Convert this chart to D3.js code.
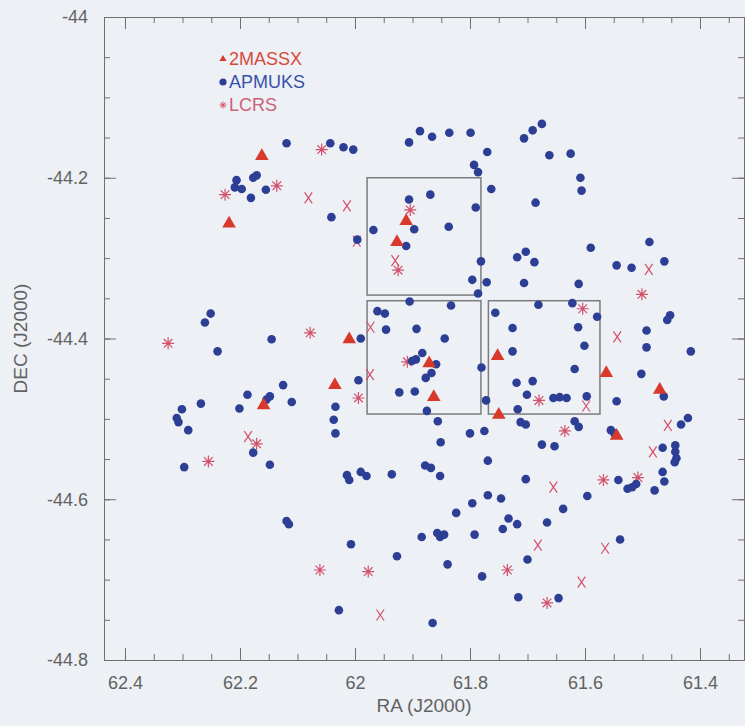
<!DOCTYPE html>
<html>
<head>
<meta charset="utf-8">
<script src="https://cdn.jsdelivr.net/npm/d3@7"></script>
<style>
  html, body { margin: 0; background: #edf0f5; }
  svg { display: block; }
</style>
</head>
<body>
<svg id="chart" width="745" height="726"></svg>
<script>
// tick labels
const xTicks = [62.4, 62.2, 62.0, 61.8, 61.6, 61.4];
const yTicks = [-44.0, -44.2, -44.4, -44.6, -44.8];
const seriesNames = ["2MASSX", "APMUKS", "LCRS"];

// [RA, DEC] in degrees
const twomassx = [
  [62.162, -44.173], [62.219, -44.257], [61.911, -44.254], [61.927, -44.280],
  [62.010, -44.401], [61.871, -44.431], [61.752, -44.422], [62.035, -44.458],
  [62.159, -44.483], [61.863, -44.473], [61.750, -44.495], [61.563, -44.443],
  [61.470, -44.464], [61.545, -44.521]
];

const apmuks = [
  [62.119, -44.157], [62.043, -44.157], [62.020, -44.162], [62.003, -44.165],
  [62.171, -44.197], [62.177, -44.200], [62.206, -44.203], [62.209, -44.212],
  [62.197, -44.214], [62.155, -44.215], [62.181, -44.225], [62.041, -44.249],
  [61.996, -44.277], [61.887, -44.142], [61.866, -44.149], [61.906, -44.156],
  [61.836, -44.144], [61.799, -44.144], [61.675, -44.133], [61.691, -44.141],
  [61.706, -44.151], [61.770, -44.168], [61.662, -44.172], [61.625, -44.170],
  [61.793, -44.184], [61.786, -44.193], [61.608, -44.200], [61.606, -44.216],
  [61.763, -44.214], [61.686, -44.231], [61.869, -44.221], [61.906, -44.227],
  [61.897, -44.264], [61.790, -44.237], [61.837, -44.261], [61.968, -44.265],
  [61.911, -44.285], [61.781, -44.304], [61.718, -44.299], [61.703, -44.292],
  [61.688, -44.305], [61.590, -44.287], [61.488, -44.280], [61.545, -44.309],
  [61.519, -44.312], [61.462, -44.304], [61.796, -44.327], [61.771, -44.330],
  [61.706, -44.331], [61.611, -44.332], [61.786, -44.344], [61.905, -44.354],
  [61.833, -44.359], [61.681, -44.358], [61.622, -44.356], [61.579, -44.373],
  [61.756, -44.368], [61.961, -44.366], [61.948, -44.369], [61.946, -44.389],
  [61.893, -44.388], [61.844, -44.400], [61.726, -44.387], [61.612, -44.386],
  [61.601, -44.409], [61.457, -44.377], [61.452, -44.371], [61.493, -44.390],
  [61.493, -44.411], [61.416, -44.416], [61.883, -44.418], [61.894, -44.426],
  [61.901, -44.428], [61.859, -44.432], [61.726, -44.416], [61.780, -44.436],
  [61.994, -44.452], [61.867, -44.443], [61.877, -44.449], [61.719, -44.455],
  [61.691, -44.453], [61.618, -44.438], [61.502, -44.444], [62.251, -44.369],
  [62.261, -44.380], [62.145, -44.401], [62.239, -44.416], [62.125, -44.458],
  [61.990, -44.400], [62.187, -44.470], [62.148, -44.472], [62.154, -44.476],
  [62.110, -44.479], [62.201, -44.487], [62.268, -44.481], [62.301, -44.488],
  [62.310, -44.499], [62.307, -44.504], [62.290, -44.514], [62.034, -44.485],
  [62.037, -44.501], [62.034, -44.518], [62.177, -44.542], [62.297, -44.560],
  [62.148, -44.557], [62.119, -44.627], [62.115, -44.631], [62.028, -44.738],
  [62.007, -44.656], [61.923, -44.467], [61.896, -44.466], [61.875, -44.490],
  [61.856, -44.503], [61.772, -44.477], [61.717, -44.488], [61.712, -44.504],
  [61.703, -44.507], [61.701, -44.470], [61.655, -44.474], [61.644, -44.473],
  [61.632, -44.474], [61.597, -44.472], [61.545, -44.478], [61.463, -44.472],
  [61.800, -44.518], [61.775, -44.515], [61.851, -44.529], [61.769, -44.552],
  [61.878, -44.558], [61.868, -44.561], [61.852, -44.571], [62.014, -44.570],
  [62.010, -44.576], [61.990, -44.566], [61.980, -44.571], [61.936, -44.569],
  [61.703, -44.575], [61.769, -44.595], [61.746, -44.599], [61.796, -44.605],
  [61.824, -44.617], [61.733, -44.624], [61.718, -44.631], [61.743, -44.637],
  [61.884, -44.647], [61.857, -44.642], [61.845, -44.644], [61.852, -44.647],
  [61.792, -44.644], [61.927, -44.671], [61.839, -44.681], [61.779, -44.696],
  [61.700, -44.675], [61.716, -44.722], [61.646, -44.723], [61.865, -44.754],
  [61.675, -44.532], [61.653, -44.534], [61.618, -44.503], [61.611, -44.510],
  [61.555, -44.514], [61.549, -44.518], [61.433, -44.507], [61.421, -44.499],
  [61.465, -44.536], [61.443, -44.533], [61.443, -44.541], [61.441, -44.549],
  [61.444, -44.554], [61.465, -44.566], [61.462, -44.578], [61.479, -44.589],
  [61.511, -44.581], [61.518, -44.585], [61.526, -44.587], [61.542, -44.576],
  [61.596, -44.596], [61.638, -44.612], [61.666, -44.629], [61.539, -44.650]
];

// LCRS, drawn as asterisks
const lcrsStar = [
  [62.058, -44.165], [62.136, -44.210], [62.226, -44.221], [62.078, -44.393],
  [62.325, -44.406], [61.904, -44.240], [61.925, -44.315], [61.909, -44.429],
  [61.994, -44.474], [61.501, -44.345], [61.604, -44.363], [62.171, -44.531],
  [62.255, -44.553], [62.061, -44.688], [61.977, -44.690], [61.680, -44.477],
  [61.635, -44.515], [61.568, -44.576], [61.508, -44.573], [61.666, -44.729],
  [61.735, -44.688]
];

// LCRS, drawn as crosses
const lcrsCross = [
  [62.081, -44.225], [62.014, -44.235], [61.997, -44.279], [61.930, -44.303],
  [61.489, -44.314], [61.544, -44.398], [61.973, -44.386], [61.974, -44.445],
  [62.186, -44.522], [61.598, -44.484], [61.456, -44.508], [61.482, -44.541],
  [61.655, -44.585], [61.682, -44.657], [61.565, -44.661], [61.606, -44.703],
  [61.956, -44.744]
];

// image fields [raEast, raWest, decNorth, decSouth]
const fields = [
  [61.979, 61.781, -44.200, -44.346],
  [61.979, 61.781, -44.353, -44.494],
  [61.768, 61.574, -44.353, -44.494]
];

const width = 745, height = 726;
const plot = { left: 104, right: 744, top: 17, bottom: 660 };
const font = '"Liberation Sans", Arial, sans-serif';
const axisColor = "#707070";

const svg = d3.select("#chart");

svg.append("rect")
  .attr("width", width)
  .attr("height", height)
  .attr("fill", "#edf0f5");

// RA runs right to left
const x = d3.scaleLinear()
  .domain([62.4365, 61.3235])
  .range([plot.left, plot.right]);

const y = d3.scaleLinear()
  .domain([-44.8, -44.0])
  .range([plot.bottom, plot.top]);

function styleAxis(g) {
  g.attr("color", axisColor)
    .attr("font-family", font)
    .attr("font-size", 18);
  g.selectAll("text").attr("fill", "#626262");
}

// minor ticks
svg.append("g")
  .attr("transform", `translate(0,${plot.bottom})`)
  .call(d3.axisBottom(x).ticks(20).tickSize(-6).tickSizeOuter(0).tickFormat(""))
  .call(styleAxis);
svg.append("g")
  .attr("transform", `translate(0,${plot.top})`)
  .call(d3.axisTop(x).ticks(20).tickSize(-6).tickSizeOuter(0).tickFormat(""))
  .call(styleAxis);
svg.append("g")
  .attr("transform", `translate(${plot.left},0)`)
  .call(d3.axisLeft(y).ticks(16).tickSize(-6).tickSizeOuter(0).tickFormat(""))
  .call(styleAxis);
svg.append("g")
  .attr("transform", `translate(${plot.right},0)`)
  .call(d3.axisRight(y).ticks(16).tickSize(-6).tickSizeOuter(0).tickFormat(""))
  .call(styleAxis);

// major ticks with labels
svg.append("g")
  .attr("transform", `translate(0,${plot.bottom})`)
  .call(d3.axisBottom(x).tickValues(xTicks).tickSize(-12).tickSizeOuter(0)
    .tickPadding(16).tickFormat(d => String(+d.toFixed(1))))
  .call(styleAxis);
svg.append("g")
  .attr("transform", `translate(0,${plot.top})`)
  .call(d3.axisTop(x).tickValues(xTicks).tickSize(-12).tickSizeOuter(0).tickFormat(""))
  .call(styleAxis);
svg.append("g")
  .attr("transform", `translate(${plot.left},0)`)
  .call(d3.axisLeft(y).tickValues(yTicks).tickSize(-12).tickSizeOuter(0)
    .tickPadding(16).tickFormat(d => String(+d.toFixed(1))))
  .call(styleAxis);
svg.append("g")
  .attr("transform", `translate(${plot.right},0)`)
  .call(d3.axisRight(y).tickValues(yTicks).tickSize(-12).tickSizeOuter(0).tickFormat(""))
  .call(styleAxis);

// axis titles
svg.append("text")
  .attr("x", (plot.left + plot.right) / 2)
  .attr("y", 705)
  .attr("dy", "0.35em")
  .attr("text-anchor", "middle")
  .style("font-family", font)
  .style("font-size", "19px")
  .style("fill", "#626262")
  .text("RA (J2000)");

svg.append("text")
  .attr("transform", `translate(20,${(plot.top + plot.bottom) / 2}) rotate(-90)`)
  .attr("dy", "0.35em")
  .attr("text-anchor", "middle")
  .style("font-family", font)
  .style("font-size", "19px")
  .style("fill", "#626262")
  .text("DEC (J2000)");

// field outlines
svg.append("g")
  .selectAll("rect")
  .data(fields)
  .join("rect")
  .attr("x", d => x(d[0]))
  .attr("y", d => y(d[2]))
  .attr("width", d => x(d[1]) - x(d[0]))
  .attr("height", d => y(d[3]) - y(d[2]))
  .attr("fill", "none")
  .attr("stroke", "#7c7c7c")
  .attr("stroke-width", 1.5);

const blue = "#2d3f95";
const red = "#d8392b";
const pink = "#d2506a";

const starPath = r => {
  const d = r * 0.72;
  return `M${-r},0H${r}M0,${-r}V${r}M${-d},${-d}L${d},${d}M${-d},${d}L${d},${-d}`;
};
const crossPath = (w, h) => `M${-w},${-h}L${w},${h}M${w},${-h}L${-w},${h}`;

const marks = svg.append("g");

marks.selectAll("path.star")
  .data(lcrsStar)
  .join("path")
  .attr("class", "star")
  .attr("transform", d => `translate(${x(d[0])},${y(d[1])})`)
  .attr("d", starPath(6))
  .attr("fill", "none")
  .attr("stroke", pink)
  .attr("stroke-width", 1.2);

marks.selectAll("path.cross")
  .data(lcrsCross)
  .join("path")
  .attr("class", "cross")
  .attr("transform", d => `translate(${x(d[0])},${y(d[1])})`)
  .attr("d", crossPath(3.8, 5.5))
  .attr("fill", "none")
  .attr("stroke", pink)
  .attr("stroke-width", 1.2);

marks.selectAll("circle")
  .data(apmuks)
  .join("circle")
  .attr("cx", d => x(d[0]))
  .attr("cy", d => y(d[1]))
  .attr("r", 4.3)
  .attr("fill", blue);

marks.selectAll("path.tri")
  .data(twomassx)
  .join("path")
  .attr("class", "tri")
  .attr("transform", d => `translate(${x(d[0])},${y(d[1])})`)
  .attr("d", d3.symbol(d3.symbolTriangle, 80))
  .attr("fill", red);

// legend
const legend = svg.append("g").attr("transform", "translate(223,59)");
const legendColors = ["#d64a3b", "#3a50a8", "#cc6277"];

legend.selectAll("text")
  .data(seriesNames)
  .join("text")
  .attr("x", 6)
  .attr("y", (d, i) => i * 23)
  .attr("dy", "0.35em")
  .style("font-family", font)
  .style("font-size", "18px")
  .style("fill", (d, i) => legendColors[i])
  .text(d => d);

legend.append("path")
  .attr("d", d3.symbol(d3.symbolTriangle, 22))
  .attr("fill", red);
legend.append("circle")
  .attr("cy", 23)
  .attr("r", 3.6)
  .attr("fill", blue);
legend.append("path")
  .attr("transform", "translate(0,46)")
  .attr("d", starPath(3.5))
  .attr("fill", "none")
  .attr("stroke", pink)
  .attr("stroke-width", 1);
</script>
</body>
</html>
